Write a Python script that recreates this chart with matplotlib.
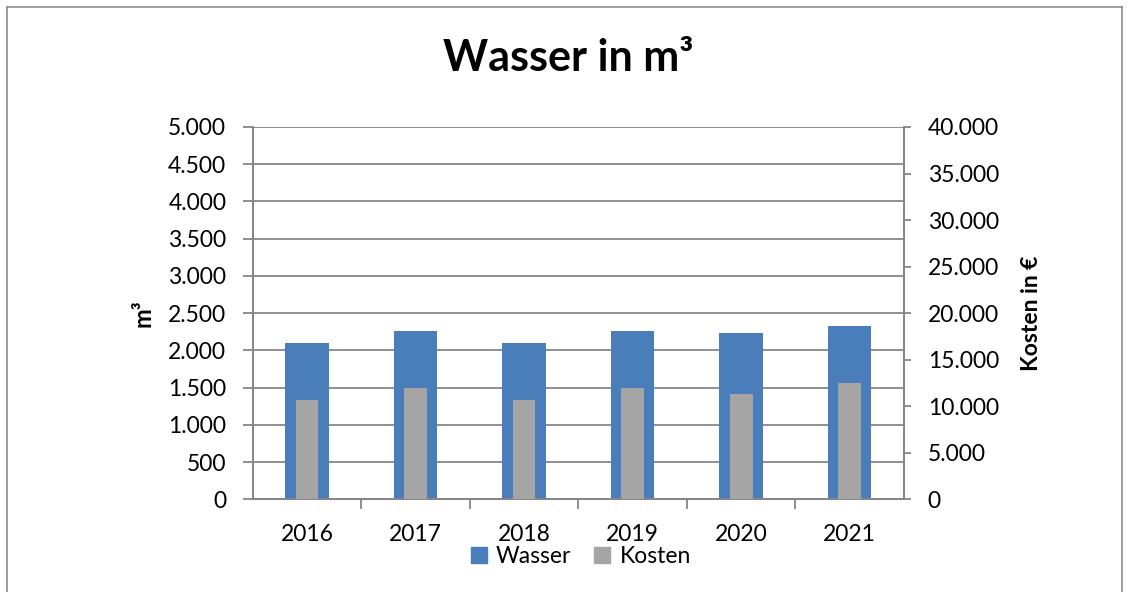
import numpy as np
import matplotlib.pyplot as plt
from matplotlib.ticker import FuncFormatter, MultipleLocator, FixedLocator
from matplotlib.patches import Patch
from matplotlib.lines import Line2D

plt.rcParams['font.family'] = ['Lato', 'DejaVu Sans']

# Data
years = ['2016', '2017', '2018', '2019', '2020', '2021']
wasser = [2105, 2265, 2105, 2265, 2235, 2332]      # m³
kosten = [10650, 11950, 10650, 11950, 11290, 12470]  # €

blue = '#4a7ebb'
grey = '#a5a5a5'
axis_grey = '#868686'


def de_fmt(v, pos):
    return f'{int(round(v)):,}'.replace(',', '.')


fig = plt.figure(figsize=(11.31, 5.92), dpi=100)
ax = fig.add_axes([0.2234, 0.1566, 0.5759, 0.6289])
ax2 = ax.twinx()

x = np.arange(len(years))
ax.bar(x, wasser, width=0.4, color=blue, zorder=2)
ax2.bar(x, kosten, width=0.21, color=grey, zorder=3)

ax.set_xlim(-0.5, len(years) - 0.5)
ax.set_ylim(0, 5000)
ax2.set_ylim(0, 40000)
ax.yaxis.set_major_locator(MultipleLocator(500))
ax2.yaxis.set_major_locator(MultipleLocator(5000))
ax.yaxis.set_major_formatter(FuncFormatter(de_fmt))
ax2.yaxis.set_major_formatter(FuncFormatter(de_fmt))

ax.set_xticks(x)
ax.set_xticklabels(years)
ax.xaxis.set_minor_locator(FixedLocator(np.arange(0.5, len(years) - 0.5, 1.0)))
ax.tick_params(axis='x', which='major', length=0, pad=18, labelsize=16.5)
ax.tick_params(axis='x', which='minor', length=7, width=1.3, color=axis_grey, direction='out')
ax.tick_params(axis='y', length=7, width=1.3, color=axis_grey, pad=12, labelsize=16.5)
ax2.tick_params(axis='y', length=5, width=1.3, color=axis_grey, pad=12, labelsize=16.5)

ax.grid(axis='y', color=axis_grey, linewidth=1.3, zorder=0)
ax.set_axisbelow(True)

for a in (ax, ax2):
    a.spines['top'].set_visible(False)
    for s in ('left', 'right', 'bottom'):
        a.spines[s].set_color(axis_grey)
        a.spines[s].set_linewidth(1.3)

ax.set_ylabel('m³', fontsize=17, fontweight='bold', labelpad=10)
ax2.set_ylabel('Kosten in €', fontsize=16.5, fontweight='bold', labelpad=16)

fig.text(0.502, 0.902, 'Wasser in m³', ha='center', va='center',
         fontsize=31, fontweight='bold')

handles = [Patch(color=blue, label='Wasser'), Patch(color=grey, label='Kosten')]
fig.legend(handles=handles, loc='center', bbox_to_anchor=(0.5135, 0.06), ncol=2,
           frameon=False, fontsize=16.5, handlelength=0.7, handleheight=0.7,
           handletextpad=0.4, columnspacing=1.0)

# chart border
fig.add_artist(Line2D([7 / 1131, 7 / 1131], [0, 1 - 7 / 592], color='#8c8c8c', lw=1.2))
fig.add_artist(Line2D([7 / 1131, 1122 / 1131], [1 - 7 / 592, 1 - 7 / 592], color='#8c8c8c', lw=1.2))
fig.add_artist(Line2D([1122 / 1131, 1122 / 1131], [0, 1 - 7 / 592], color='#8c8c8c', lw=1.2))

fig.savefig('out.png', dpi=100)
